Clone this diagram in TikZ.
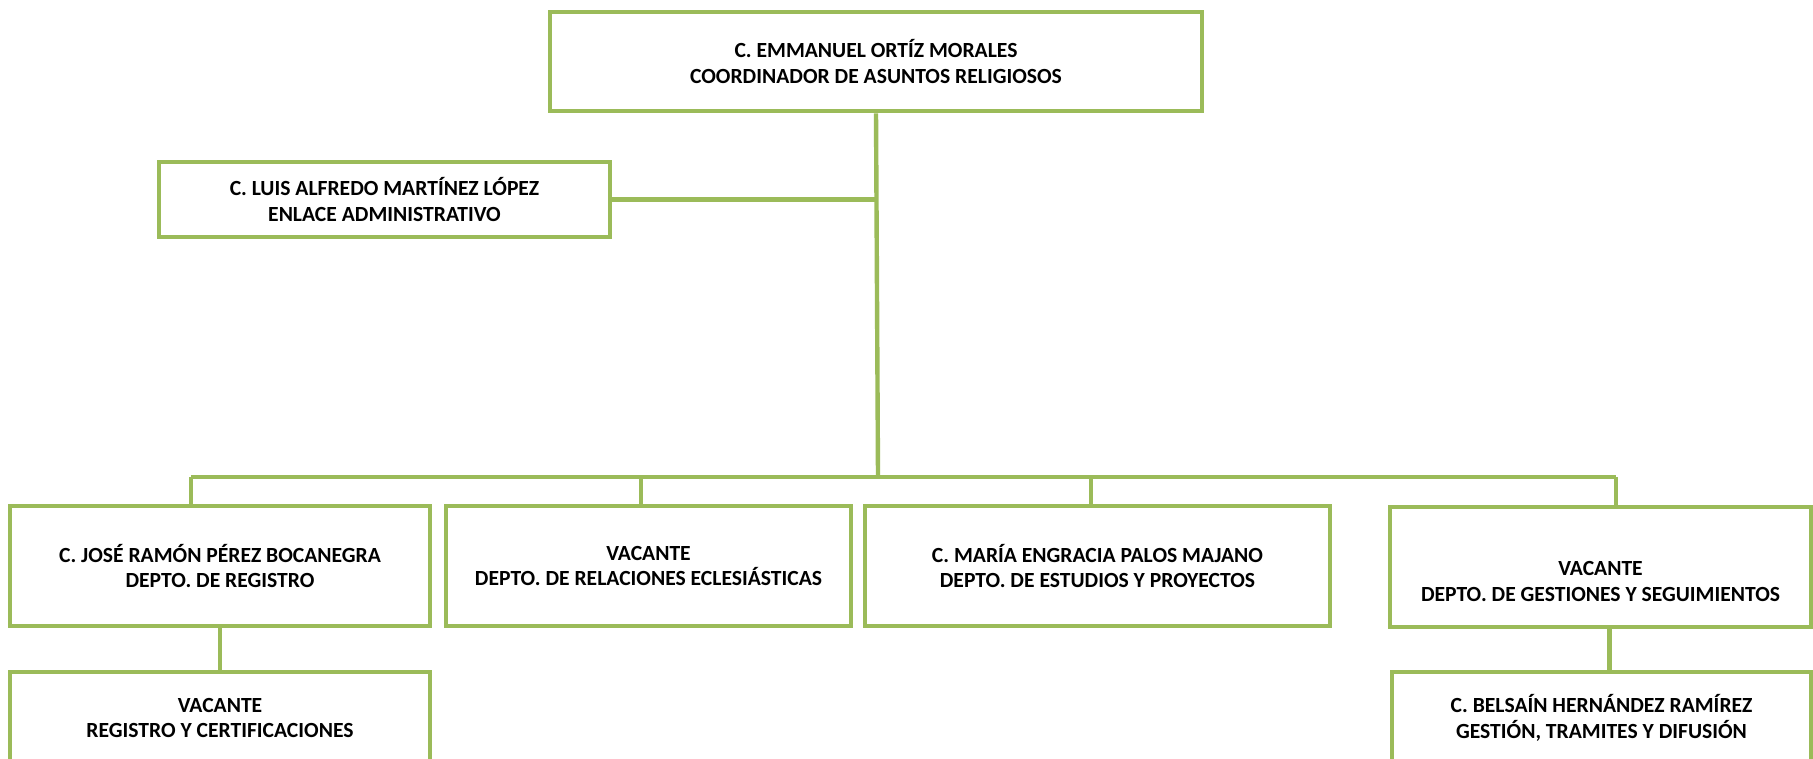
\documentclass[tikz,border=0pt]{standalone}
\usepackage{fontspec}
\setmainfont{Carlito}
\definecolor{verde}{HTML}{9BBB59}
\tikzset{
  cargo/.style={draw=verde, line width=2.3pt, rectangle, align=center, inner sep=0pt,
    font=\bfseries\fontsize{10.8}{12.8}\selectfont},
  linea/.style={draw=verde, line width=2.2pt}
}
\begin{document}
\begin{tikzpicture}[x=0.5pt,y=-0.5pt]
      \useasboundingbox (0,0) rectangle (1813,759);
      \clip (0,0) rectangle (1813,759);
      \def \Cargos{
        coord/876/61.5/652/99/{C. EMMANUEL ORTÍZ MORALES\\COORDINADOR DE ASUNTOS RELIGIOSOS},
        admin/384.5/199.5/451/75/{C. LUIS ALFREDO MARTÍNEZ LÓPEZ\\ENLACE ADMINISTRATIVO},
        reg/220/566/420/120/{C. JOSÉ RAMÓN PÉREZ BOCANEGRA\\DEPTO. DE REGISTRO},
        rel/648.5/566/405/120/{VACANTE\\DEPTO. DE RELACIONES ECLESIÁSTICAS},
        est/1097.5/566/465/120/{C. MARÍA ENGRACIA PALOS MAJANO\\DEPTO. DE ESTUDIOS Y PROYECTOS},
        ges/1600.5/567/421/120/{\strut\\VACANTE\\DEPTO. DE GESTIONES Y SEGUIMIENTOS},
        cert/220/718/420/92/{VACANTE\\REGISTRO Y CERTIFICACIONES},
        dif/1601.5/718/419/92/{C. BELSAÍN HERNÁNDEZ RAMÍREZ\\GESTIÓN, TRAMITES Y DIFUSIÓN}}
      \foreach \id / \x / \y / \w / \h / \txt in \Cargos{
        \node[cargo, minimum width=\w*0.5pt, minimum height=\h*0.5pt] (\id) at (\x, \y) {\txt};
      }
      % puntos de la barra
      \coordinate (bus) at (878,477);
      \foreach \id / \x in {b1/191, b2/641, b3/1091, b4/1616}{
        \coordinate (\id) at (\x, 477);
      }
      \draw[linea] (coord.south) -- (bus);
      \draw[linea] (admin.east) -- (admin.east -| coord.south);
      \draw[linea] (b1) -- (b4);
      \foreach \b / \id in {b1/reg, b2/rel, b3/est, b4/ges}{
        \path[linea] (\b) -- (\b |- \id.north);
      }
      \draw[linea] (reg.south) -- (cert.north);
      \draw[linea] ([xshift=4.5pt]ges.south) -- ([xshift=4.5pt]ges.south |- dif.north);
    \end{tikzpicture}
\end{document}
